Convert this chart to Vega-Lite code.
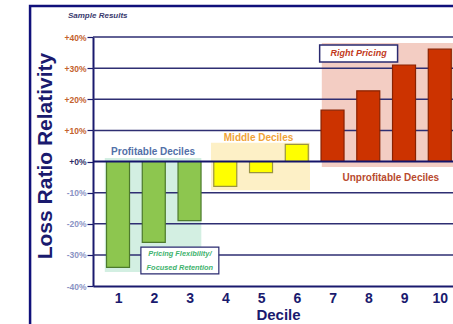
{
  "$schema": "https://vega.github.io/schema/vega-lite/v6.json",
  "width": 360,
  "height": 249,
  "autosize": "none",
  "padding": {"left": 93, "top": 37, "right": 0, "bottom": 38},
  "background": "white",
  "config": {"view": {"stroke": null}, "font": "Liberation Sans", "axis": {"labelOverlap": false}},
  "datasets": {
    "bars": [
      {"decile": 1, "relativity": -34, "group": "Profitable"},
      {"decile": 2, "relativity": -26, "group": "Profitable"},
      {"decile": 3, "relativity": -19, "group": "Profitable"},
      {"decile": 4, "relativity": -8, "group": "Middle"},
      {"decile": 5, "relativity": -3.6, "group": "Middle"},
      {"decile": 6, "relativity": 5.5, "group": "Middle"},
      {"decile": 7, "relativity": 16.5, "group": "Unprofitable"},
      {"decile": 8, "relativity": 22.7, "group": "Unprofitable"},
      {"decile": 9, "relativity": 31, "group": "Unprofitable"},
      {"decile": 10, "relativity": 36.1, "group": "Unprofitable"}
    ],
    "regions": [
      {"group": "Profitable", "x0": 0.63, "x1": 3.33, "y0": 1.1, "y1": -35.5},
      {"group": "Middle", "x0": 3.6, "x1": 6.37, "y0": 6, "y1": -9.2},
      {"group": "Unprofitable", "x0": 6.7, "x1": 11, "y0": 38.1, "y1": -1.8}
    ],
    "grid": [{"v": 40}, {"v": 30}, {"v": 20}, {"v": 10}, {"v": -10}, {"v": -20}, {"v": -30}],
    "one": [{}]
  },
  "layer": [
    {
      "data": {"values": [{"x0": -1.46, "x1": 12, "y0": 50, "y1": -70}]},
      "mark": {"type": "rect", "fill": null, "stroke": "#10107a", "strokeWidth": 2.5, "clip": false},
      "encoding": {
        "x": {"field": "x0", "type": "quantitative", "scale": {"domain": [0.44, 10.23], "nice": false, "zero": false}, "axis": {"tickCount": 10, "tickMinStep": 1, "labelOverlap": false, "title": "Decile", "grid": false, "ticks": false, "domainColor": "#1a1a6e", "domainWidth": 2, "labelFont": "Liberation Sans", "labelFontSize": 14, "labelFontWeight": "bold", "labelColor": "#1a1a6e", "labelPadding": 5, "labelFlush": false, "titleFont": "Liberation Sans", "titleFontSize": 15, "titleFontWeight": "bold", "titleColor": "#1a1a6e", "titleX": 185, "titleY": 21, "titleBaseline": "top"}},
        "x2": {"field": "x1"},
        "y": {"field": "y0", "type": "quantitative", "scale": {"domain": [-40, 40], "nice": false}, "axis": {"tickCount": 8, "labelOverlap": false, "title": "Loss Ratio Relativity", "grid": false, "domainColor": "#1a1a6e", "domainWidth": 2, "tickColor": "#1a1a6e", "tickSize": 6, "tickWidth": 1.2, "labelFont": "Liberation Sans", "labelFontSize": 8.5, "labelFontWeight": "bold", "labelPadding": 1, "labelExpr": "datum.value >= 0 ? '+' + datum.value + '%' : datum.value + '%'", "labelColor": {"condition": [{"test": "datum.value > 0", "value": "#c4622d"}, {"test": "datum.value == 0", "value": "#2e2e66"}], "value": "#8a93c4"}, "titleFont": "Liberation Sans", "titleFontSize": 21, "titleFontWeight": "bold", "titleColor": "#1a1a6e", "titleAngle": -90, "titleX": -48, "titleY": 118.5, "titleAlign": "center", "titleBaseline": "middle"}},
        "y2": {"field": "y1"}
      }
    },
    {
      "data": {"name": "regions"},
      "mark": {"type": "rect"},
      "encoding": {
        "x": {"field": "x0", "type": "quantitative"},
        "x2": {"field": "x1"},
        "y": {"field": "y0", "type": "quantitative"},
        "y2": {"field": "y1"},
        "color": {"field": "group", "type": "nominal", "scale": {"domain": ["Profitable", "Middle", "Unprofitable"], "range": ["#d3efe2", "#fdf0c6", "#f3cdc3"]}, "legend": null}
      }
    },
    {
      "data": {"name": "grid"},
      "mark": {"type": "rule", "color": "#2e2e72", "strokeWidth": 1.5},
      "encoding": {"y": {"field": "v", "type": "quantitative"}}
    },
    {
      "data": {"name": "bars"},
      "mark": {"type": "bar", "size": 23, "strokeWidth": 1.2},
      "encoding": {
        "x": {"field": "decile", "type": "quantitative"},
        "y": {"field": "relativity", "type": "quantitative"},
        "y2": {"datum": 0},
        "fill": {"field": "group", "type": "nominal", "scale": {"domain": ["Profitable", "Middle", "Unprofitable"], "range": ["#8dc64f", "#ffff00", "#cc3300"]}, "legend": null},
        "stroke": {"field": "group", "type": "nominal", "scale": {"domain": ["Profitable", "Middle", "Unprofitable"], "range": ["#4d7a2c", "#9a9440", "#8a2200"]}, "legend": null}
      }
    },
    {
      "data": {"name": "one"},
      "mark": {"type": "rule", "color": "#14146a", "strokeWidth": 2},
      "encoding": {"y": {"datum": 0}}
    },
    {
      "data": {"name": "one"},
      "mark": {"type": "rect", "fill": "white", "stroke": "#2a2a70", "strokeWidth": 1.5},
      "encoding": {"x": {"datum": 6.64}, "x2": {"datum": 8.82}, "y": {"datum": 37.4}, "y2": {"datum": 32}}
    },
    {
      "data": {"name": "one"},
      "mark": {"type": "rect", "fill": "white", "stroke": "#2a2a70", "strokeWidth": 1.2},
      "encoding": {"x": {"datum": 1.64}, "x2": {"datum": 3.82}, "y": {"datum": -27.5}, "y2": {"datum": -36.1}}
    },
    {
      "data": {"name": "one"},
      "mark": {"type": "text", "text": "Right Pricing", "font": "Liberation Sans", "fontSize": 9, "fontWeight": "bold", "fontStyle": "italic", "color": "#c23a22", "align": "center", "baseline": "middle"},
      "encoding": {"x": {"datum": 7.73}, "y": {"datum": 34.7}}
    },
    {
      "data": {"name": "one"},
      "mark": {"type": "text", "text": ["Pricing Flexibility/", "Focused Retention"], "lineHeight": 14, "font": "Liberation Sans", "fontSize": 7.4, "fontWeight": "bold", "fontStyle": "italic", "color": "#3fb36e", "align": "center", "baseline": "middle"},
      "encoding": {"x": {"datum": 2.73}, "y": {"datum": -29.7}}
    },
    {
      "data": {"name": "one"},
      "mark": {"type": "text", "text": "Profitable Deciles", "font": "Liberation Sans", "fontSize": 10, "fontWeight": "bold", "color": "#5270a8", "align": "center", "baseline": "middle"},
      "encoding": {"x": {"datum": 1.98}, "y": {"datum": 3.1}}
    },
    {
      "data": {"name": "one"},
      "mark": {"type": "text", "text": "Middle Deciles", "font": "Liberation Sans", "fontSize": 10, "fontWeight": "bold", "color": "#f0a338", "align": "center", "baseline": "middle"},
      "encoding": {"x": {"datum": 4.93}, "y": {"datum": 7.6}}
    },
    {
      "data": {"name": "one"},
      "mark": {"type": "text", "text": "Unprofitable Deciles", "font": "Liberation Sans", "fontSize": 10, "fontWeight": "bold", "color": "#b84a2e", "align": "center", "baseline": "middle"},
      "encoding": {"x": {"datum": 8.63}, "y": {"datum": -5.3}}
    },
    {
      "data": {"name": "one"},
      "mark": {"type": "text", "text": "Sample Results", "font": "Liberation Sans", "fontSize": 8, "fontWeight": "bold", "fontStyle": "italic", "color": "#3a3a6e", "align": "left", "baseline": "middle", "clip": false},
      "encoding": {"x": {"datum": -0.4}, "y": {"datum": 46.7}}
    }
  ]
}
